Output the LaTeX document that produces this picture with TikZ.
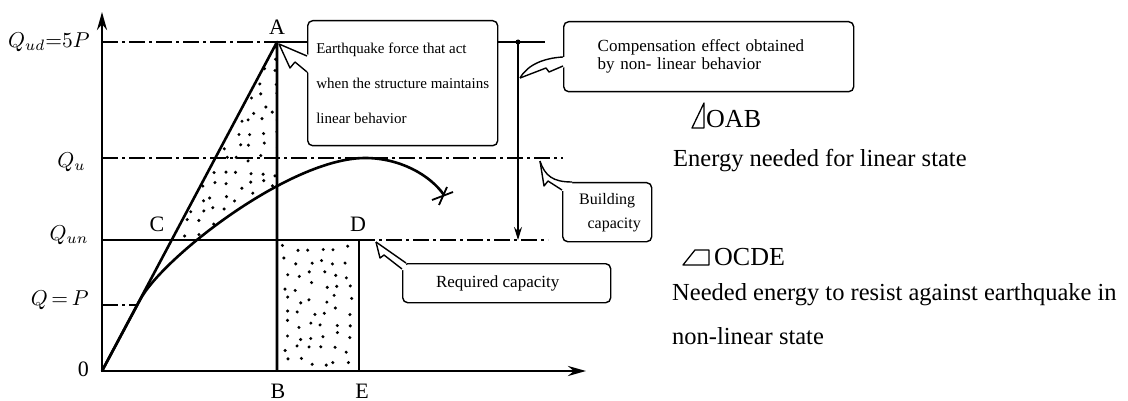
\documentclass[tikz,border=0pt]{standalone}
\usepackage{fontspec}
\setmainfont{Liberation Serif}
\usetikzlibrary{arrows.meta, positioning, calc}

\begin{document}
\begin{tikzpicture}[x=1pt, y=-1pt,
    axis/.style={line width=2.6pt, {Stealth[length=18pt,width=10pt]}-{Stealth[length=18pt,width=10pt]}},
    heavy/.style={line width=2.6pt, line join=round},
    thinline/.style={line width=1.4pt},
    dashdot/.style={line width=1.4pt, dash pattern=on 16pt off 4pt on 3pt off 4pt},
    callout/.style={draw, line width=1.4pt, fill=white, rounded corners=5pt, inner sep=0pt, anchor=north west},
    tail/.style={line width=1.4pt, line join=round},
    ptlabel/.style={font=\fontsize{22}{26}\selectfont, inner sep=0pt},
    qlabel/.style={scale=2.15, transform shape, inner sep=0pt, anchor=east},
    bigtext/.style={font=\fontsize{24.5}{30}\selectfont, inner sep=0pt, anchor=base west}
  ]
  \useasboundingbox (0,0) rectangle (1128,401);

  \coordinate (O)  at (102,371);
  \coordinate (A)  at (277,42);
  \coordinate (B)  at (277,371);
  \coordinate (C)  at (171,240);
  \coordinate (D)  at (359,240);
  \coordinate (E)  at (359,371);
  \coordinate (BD) at (277,240);
  \coordinate (top) at (518,42);
  \coordinate (bot) at (518,240);

  % stippled areas
  \begin{scope}
    \clip (C) -- (A) -- (BD) -- cycle;
    \clip (140,300) .. controls (162,258) and (290,158) .. (365,158) -- (365,0) -- (140,0) -- cycle;
    \pgfmathsetseed{11}
    \foreach \i in {0,...,8}
      \foreach \j in {0,...,15}
        \fill ({176+12.5*\i+8*(rnd-0.5)},{47+12.5*\j+8*(rnd-0.5)}) circle (1.7pt);
  \end{scope}
  \begin{scope}
    \clip (BD) rectangle (E);
    \pgfmathsetseed{5}
    \foreach \i in {0,...,5}
      \foreach \j in {0,...,9}
        \fill ({286+12.5*\i+8*(rnd-0.5)},{249+12.5*\j+8*(rnd-0.5)}) circle (1.7pt);
  \end{scope}

  \draw[dashdot] (102,42) -- (A);
  \draw[thinline] (A) -- (545,42);
  \draw[dashdot] (102,158) -- (563,158);
  \draw[dashdot] (D) -- (548,240);
  \draw[dashdot] (102,305) -- (137,305);

  \draw[heavy] (102,240) -- (D) -- (E);
  \draw[heavy] (O) -- (A) -- (B);
  \draw[heavy] (O) -- (140,300) .. controls (162,258) and (290,158) .. (365,158)
    .. controls (400,158) and (430,175) .. (444,195);
  \draw[line width=1.8pt] (432,200) -- (453,192);
  \draw[line width=1.8pt] (439,205) -- (447,187);

  \draw[axis] (102,12) -- (O) -- (586,371);

  \fill (top) circle (2.5pt);
  \draw[thinline, -{Stealth[length=13pt,width=8pt]}] (top) -- (bot);

  \node[qlabel] (qud)  at (90,42)  {$Q_{ud}{=}5P$};
  \node[qlabel] (qu)   at (86,162) {$Q_u$};
  \node[qlabel] (qun)  at (89,235) {$Q_{un}$};
  \node[qlabel] (qp)   at (89,300) {$Q\,{=}\,P$};
  \node[ptlabel, anchor=east] (zero) at (89,369) {0};

  \node[ptlabel] (lblA) at (277,27)  {A};
  \node[ptlabel] (lblB) at (278,391) {B};
  \node[ptlabel] (lblC) at (157,224) {C};
  \node[ptlabel] (lblD) at (358,224) {D};
  \node[ptlabel] (lblE) at (362,391) {E};

  \node[callout, minimum width=190pt, minimum height=125pt, align=left,
        font=\fontsize{15}{35}\selectfont] (eqbox) at (307,20)
        {Earthquake force that act\\when the structure maintains\\linear behavior};
  \fill[white] (279,44) -- (309,55) -- (309,73) -- (295,62) -- (290,68) -- cycle;
  \draw[tail] (307,56) -- (279,44) -- (290,68) -- (295,62) -- (307,72);

  \node[callout, minimum width=290pt, minimum height=70pt, text width=222pt, align=left,
        font=\fontsize{17}{18}\selectfont] (compbox) at (563,21)
        {Compensation effect obtained\\by non- linear behavior};
  \fill[white] (520,78) .. controls (528,64) and (545,58) .. (565,57) -- (565,67) -- (549,72) -- (546,68) -- cycle;
  \draw[tail] (520,78) .. controls (528,64) and (545,58) .. (563,57);
  \draw[tail] (520,78) -- (546,68) -- (549,72) -- (563,66);

  \node[callout, minimum width=89pt, minimum height=59pt, align=center,
        font=\fontsize{16}{24}\selectfont] (bldbox) at (562,182)
        {Building\\\hspace*{14pt}capacity};
  \fill[white] (540,161) .. controls (545,176) and (553,182) .. (572,182) -- (572,185) -- (565,185)
    -- (565,191) -- (562,191) -- (548,181) -- (544,186) -- cycle;
  \draw[tail] (540,161) .. controls (545,176) and (553,182) .. (572,182);
  \draw[tail] (540,161) -- (544,186) -- (548,181) -- (562,190);

  \node[callout, minimum width=208pt, minimum height=39pt,
        font=\fontsize{17}{20}\selectfont] (reqbox) at (402,263) {Required capacity\hspace*{18pt}};
  \fill[white] (376,242) -- (406,262) -- (406,266) -- (404,270) -- (401,270) -- (384,255) -- (380,258) -- cycle;
  \draw[tail] (376,242) -- (406,263);
  \draw[tail] (376,242) -- (380,258) -- (384,255) -- (402,269);

  \node[bigtext, font=\fontsize{26}{30}\selectfont] (oab) at (706,128) {OAB};
  \draw[line width=1.3pt, line join=round] (692,128) -- (704,103) -- (704,128) -- cycle;
  \node[bigtext] (lintxt) at (673,167) {Energy needed for linear state};

  \node[bigtext, font=\fontsize{26}{30}\selectfont] (ocde) at (714,265) {OCDE};
  \draw[line width=1.3pt, line join=round] (683,265) -- (695,250) -- (709,250) -- (709,265) -- cycle;
  \node[bigtext] (nontxt) at (672,300) {Needed energy to resist against earthquake in};
  \node[bigtext] (nontxt2) at (672,344) {non-linear state};
\end{tikzpicture}
\end{document}
